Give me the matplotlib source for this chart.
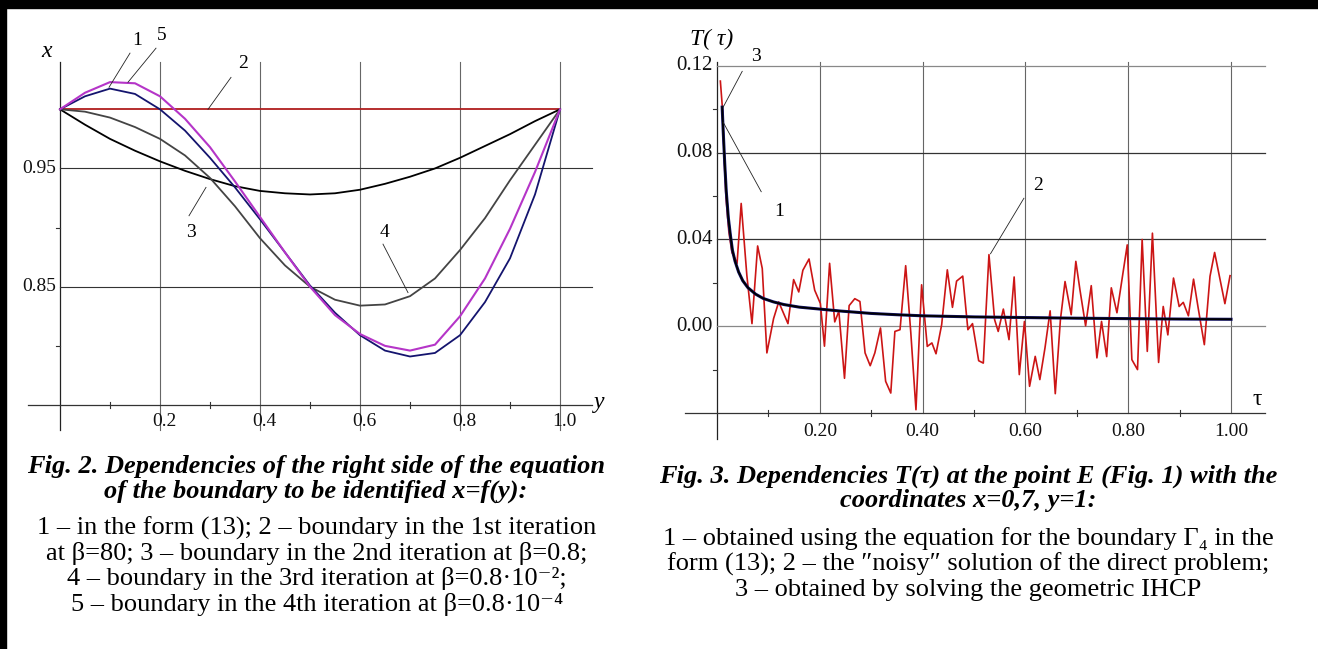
import matplotlib
matplotlib.use("Agg")
import matplotlib.pyplot as plt
from matplotlib.patches import Rectangle

plt.rcParams['font.family'] = ['Liberation Serif', 'DejaVu Serif']

W, H = 1318, 649

# ---- Fig. 2 : x = f(y) ----
y_pts = [0.0, 0.05, 0.1, 0.15, 0.2, 0.25, 0.3, 0.35, 0.4, 0.45, 0.5,
         0.55, 0.6, 0.65, 0.7, 0.75, 0.8, 0.85, 0.9, 0.95, 1.0]
x_form13 = [1.0, 1.011, 1.0175, 1.013, 1.0, 0.982, 0.959, 0.934, 0.907, 0.879, 0.851,
            0.828, 0.809, 0.796, 0.791, 0.794, 0.809, 0.837, 0.874, 0.928, 1.0]
x_iter4 = [1.0, 1.014, 1.023, 1.022, 1.011, 0.992, 0.968, 0.939, 0.909, 0.879, 0.850,
           0.826, 0.810, 0.800, 0.796, 0.801, 0.825, 0.857, 0.899, 0.947, 1.0]
x_iter3 = [1.0, 0.998, 0.993, 0.985, 0.975, 0.961, 0.942, 0.918, 0.891, 0.868, 0.850,
           0.839, 0.834, 0.835, 0.842, 0.857, 0.881, 0.908, 0.940, 0.970, 1.0]
x_iter2 = [1.0, 0.987, 0.975, 0.965, 0.956, 0.948, 0.941, 0.935, 0.931, 0.929, 0.928,
           0.929, 0.932, 0.937, 0.943, 0.950, 0.959, 0.969, 0.979, 0.990, 1.0]
y_iter1 = [0.0, 1.0]
x_iter1 = [1.0, 1.0]

f2_xticks = [0.2, 0.4, 0.6, 0.8, 1.0]
f2_xminor = [0.1, 0.3, 0.5, 0.7, 0.9]
f2_yticks = [0.95, 0.85]
f2_yminor = [0.9, 0.8]

# ---- Fig. 3 : T(tau) ----
tau_smooth = [0.01, 0.012, 0.015, 0.018, 0.022, 0.026, 0.03, 0.035, 0.042, 0.05, 0.06,
              0.075, 0.09, 0.11, 0.13, 0.16, 0.2, 0.24, 0.3, 0.35, 0.4, 0.5, 0.6,
              0.7, 0.8, 0.9, 1.0]
T_smooth = [0.101, 0.09, 0.075, 0.062, 0.05, 0.042, 0.035, 0.030, 0.025, 0.021, 0.0178,
            0.0148, 0.0128, 0.0112, 0.0100, 0.0088, 0.0079, 0.0070, 0.0059, 0.0053, 0.0048,
            0.0043, 0.0040, 0.0037, 0.0035, 0.0033, 0.0032]

tau_noisy = [0.0065, 0.011, 0.0136, 0.0175, 0.023, 0.029, 0.039, 0.047, 0.058, 0.068,
             0.079, 0.088, 0.097, 0.11, 0.12, 0.138, 0.149, 0.159, 0.167, 0.179,
             0.19, 0.201, 0.209, 0.219, 0.229, 0.237, 0.248, 0.257, 0.268, 0.278,
             0.288, 0.298, 0.307, 0.318, 0.328, 0.338, 0.346, 0.356, 0.367, 0.377,
             0.387, 0.398, 0.409, 0.418, 0.426, 0.437, 0.448, 0.458, 0.466, 0.478,
             0.488, 0.497, 0.509, 0.518, 0.529, 0.54, 0.547, 0.557, 0.568, 0.578,
             0.588, 0.598, 0.608, 0.619, 0.628, 0.638, 0.648, 0.658, 0.668, 0.677,
             0.689, 0.698, 0.706, 0.717, 0.728, 0.739, 0.748, 0.758, 0.767, 0.778,
             0.798, 0.807, 0.818, 0.827, 0.837, 0.847, 0.859, 0.868, 0.877, 0.888,
             0.899, 0.907, 0.917, 0.927, 0.936, 0.948, 0.959, 0.968, 0.988, 0.998]
T_noisy = [0.113, 0.099, 0.079, 0.059, 0.0435, 0.034, 0.029, 0.0566, 0.0235, 0.0012,
           0.037, 0.0266, -0.0123, 0.0035, 0.0112, 0.0012, 0.0215, 0.0158, 0.0258, 0.031,
           0.0166, 0.0105, -0.0092, 0.029, 0.002, 0.0069, -0.024, 0.0095, 0.0127, 0.0114,
           -0.0123, -0.0182, -0.0123, -0.0008, -0.0254, -0.0308, -0.0024, -0.0016, 0.0279, -0.0031,
           -0.0385, 0.0191, -0.0093, -0.0077, -0.0127, 0.0007, 0.026, 0.0087, 0.0208, 0.0231,
           -0.0016, 0.0012, -0.0159, -0.017, 0.033, 0.003, -0.0024, 0.0079, -0.0062, 0.0227,
           -0.0223, 0.0022, -0.0277, -0.0139, -0.0246, -0.010, 0.0071, -0.0311, 0.003, 0.0206,
           0.0053, 0.0299, 0.0168, 0.0002, 0.0187, -0.0146, 0.0022, -0.014, 0.0177, 0.0062,
           0.0375, -0.0154, -0.020, 0.040, -0.0116, 0.0429, -0.0167, 0.0091, -0.004, 0.0222,
           0.0091, 0.011, 0.0048, 0.0217, 0.0084, -0.0085, 0.023, 0.034, 0.0104, 0.0233]

f3_xticks = [0.2, 0.4, 0.6, 0.8, 1.0]
f3_xminor = [0.1, 0.3, 0.5, 0.7, 0.9]
f3_yticks = [0.12, 0.08, 0.04, 0.00]
f3_yminor = [0.10, 0.06, 0.02, -0.02]

cap2_title = ['Fig. 2. Dependencies of the right side of the equation',
              'of the boundary to be identified x=f(y):']
cap2_body = ['1 – in the form (13); 2 – boundary in the 1st iteration',
             'at β=80; 3 – boundary in the 2nd iteration at β=0.8;',
             '4 – boundary in the 3rd iteration at β=0.8·10⁻²;',
             '5 – boundary in the 4th iteration at β=0.8·10⁻⁴']
cap3_title = ['Fig. 3. Dependencies T(τ) at the point E (Fig. 1) with the',
              'coordinates x=0,7, y=1:']
cap3_body = ['1 – obtained using the equation for the boundary Γ₄ in the',
             'form (13); 2 – the ″noisy″ solution of the direct problem;',
             '3 – obtained by solving the geometric IHCP']

fig = plt.figure(figsize=(W / 100, H / 100), dpi=100, facecolor='white')


def add_axes_px(x0, y0, x1, y1):
    # pixel box (left, top, right, bottom) -> figure fraction
    return fig.add_axes([x0 / W, 1 - y1 / H, (x1 - x0) / W, (y1 - y0) / H])


def fpx(px, py):
    return px / W, 1 - py / H


# border of the page
fig.patches.append(Rectangle((0, 1 - 8 / H), 1, 8 / H, transform=fig.transFigure,
                             color='black', zorder=10))
fig.patches.append(Rectangle((0, 0), 6 / W, 1, transform=fig.transFigure,
                             color='black', zorder=10))

grid_v = '#666666'
grid_h = '#333333'
tick_kw = dict(family='Liberation Serif', fontsize=14, color='#111111')

# ================= Fig. 2 =================
ax = add_axes_px(28, 62, 592, 405)
ax.set_xlim(-0.064, 1.064)
ax.set_ylim(0.75, 1.04)
ax.axis('off')

for v in f2_xticks:
    ax.plot([v, v], [0.729, 1.04], color=grid_v, lw=0.8, clip_on=False)
ax.plot([0, 0], [0.729, 1.04], color='#222222', lw=0.9, clip_on=False)
for v in f2_yticks:
    ax.plot([0, 1.064], [v, v], color=grid_h, lw=0.8, clip_on=False)
    ax.text(-0.008, v, f'{v:.2f}', ha='right', va='center', **tick_kw)
ax.plot([-0.064, 1.064], [0.75, 0.75], color='#333333', lw=0.9, clip_on=False)
for v in f2_xminor:
    ax.plot([v, v], [0.7475, 0.7525], color='#333333', lw=0.8, clip_on=False)
for v in f2_yminor:
    ax.plot([-0.008, 0], [v, v], color='#333333', lw=0.8, clip_on=False)
for v in f2_xticks:
    ax.text(v + 0.008, 0.736, f'{v:.1f}', ha='center', va='center', **tick_kw)

ax.plot(y_iter1, x_iter1, color='#b01e1e', lw=1.3, clip_on=False)
ax.plot(y_pts, x_iter2, color='#000000', lw=1.3, clip_on=False)
ax.plot(y_pts, x_iter3, color='#444444', lw=1.3, clip_on=False)
ax.plot(y_pts, x_form13, color='#14146e', lw=1.3, clip_on=False)
ax.plot(y_pts, x_iter4, color='#b535c8', lw=1.5, clip_on=False)

lbl_kw = dict(family='Liberation Serif', fontsize=14, ha='center', va='center')
leader = dict(color='#222222', lw=0.6, clip_on=False)
ax.text(0.154, 1.0585, '1', **lbl_kw)
ax.plot([0.14, 0.098], [1.0475, 1.0186], **leader)
ax.text(0.204, 1.0627, '5', **lbl_kw)
ax.plot([0.192, 0.136], [1.0517, 1.0229], **leader)
ax.text(0.366, 1.039, '2', **lbl_kw)
ax.plot([0.342, 0.296], [1.027, 1.0], **leader)
ax.text(0.262, 0.8958, '3', **lbl_kw)
ax.plot([0.258, 0.292], [0.910, 0.934], **leader)
ax.text(0.65, 0.8958, '4', **lbl_kw)
ax.plot([0.646, 0.696], [0.886, 0.845], **leader)

ax.text(-0.026, 1.049, 'x', family='Liberation Serif', style='italic', fontsize=17,
        ha='center', va='center')
ax.text(1.078, 0.752, 'y', family='Liberation Serif', style='italic', fontsize=17,
        ha='center', va='center')

# ================= Fig. 3 =================
bx = add_axes_px(685, 62, 1265, 413)
bx.set_xlim(-0.0623, 1.066)
bx.set_ylim(-0.04, 0.1218)
bx.axis('off')

for v in f3_xticks:
    bx.plot([v, v], [-0.04, 0.1218], color=grid_v, lw=0.8, clip_on=False)
bx.plot([0, 0], [-0.052, 0.1218], color='#222222', lw=0.9, clip_on=False)
for v in f3_yticks:
    bx.plot([0, 1.066], [v, v], color=grid_h if v in (0.08, 0.04) else '#888888',
            lw=0.9, clip_on=False)
    bx.text(-0.009, v, f'{v:.2f}', ha='right', va='center',
            **dict(tick_kw, fontsize=15))
bx.plot([-0.0623, 1.066], [-0.04, -0.04], color='#333333', lw=0.9, clip_on=False)
for v in f3_xminor:
    bx.plot([v, v], [-0.0412, -0.0388], color='#333333', lw=0.8, clip_on=False)
for v in f3_yminor:
    bx.plot([-0.008, 0], [v, v], color='#333333', lw=0.8, clip_on=False)
for v in f3_xticks:
    bx.text(v, -0.0485, f'{v:.2f}', ha='center', va='center', **tick_kw)

bx.plot(tau_noisy, T_noisy, color='#cc1515', lw=1.2, clip_on=False)
bx.plot(tau_smooth, T_smooth, color='#15156e', lw=2.2, clip_on=False)
bx.plot(tau_smooth, T_smooth, color='#000000', lw=1.3, clip_on=False)

bx.text(0.076, 0.1245, '3', **lbl_kw)
bx.plot([0.049, 0.012], [0.1175, 0.101], **leader)
bx.text(0.121, 0.053, '1', **lbl_kw)
bx.plot([0.086, 0.012], [0.062, 0.094], **leader)
bx.text(0.625, 0.065, '2', **lbl_kw)
bx.plot([0.597, 0.532], [0.059, 0.0334], **leader)

bx.text(-0.0525, 0.132, 'T( τ)', family='Liberation Serif', style='italic', fontsize=17,
        ha='left', va='center')
bx.text(1.05, -0.034, 'τ', family='Liberation Serif', fontsize=17,
        ha='center', va='center')

# ================= captions =================
serif = ['Liberation Serif', 'DejaVu Serif']
cap_b = dict(family=serif, fontsize=19, weight='bold', style='italic',
             ha='center', va='center', multialignment='center', color='black',
             linespacing=1.05)
cap_n = dict(family=serif, fontsize=19, ha='center', va='center',
             multialignment='center', color='black')

fig.text(*fpx(316, 479), '\n'.join(cap2_title), **cap_b)
fig.text(*fpx(317, 566), '\n'.join(cap2_body), linespacing=1.13, **cap_n)
fig.text(*fpx(968, 488), '\n'.join(cap3_title), **cap_b)
fig.text(*fpx(968, 564), '\n'.join(cap3_body), linespacing=1.16, **cap_n)

fig.savefig('out.png', dpi=100, facecolor='white')
